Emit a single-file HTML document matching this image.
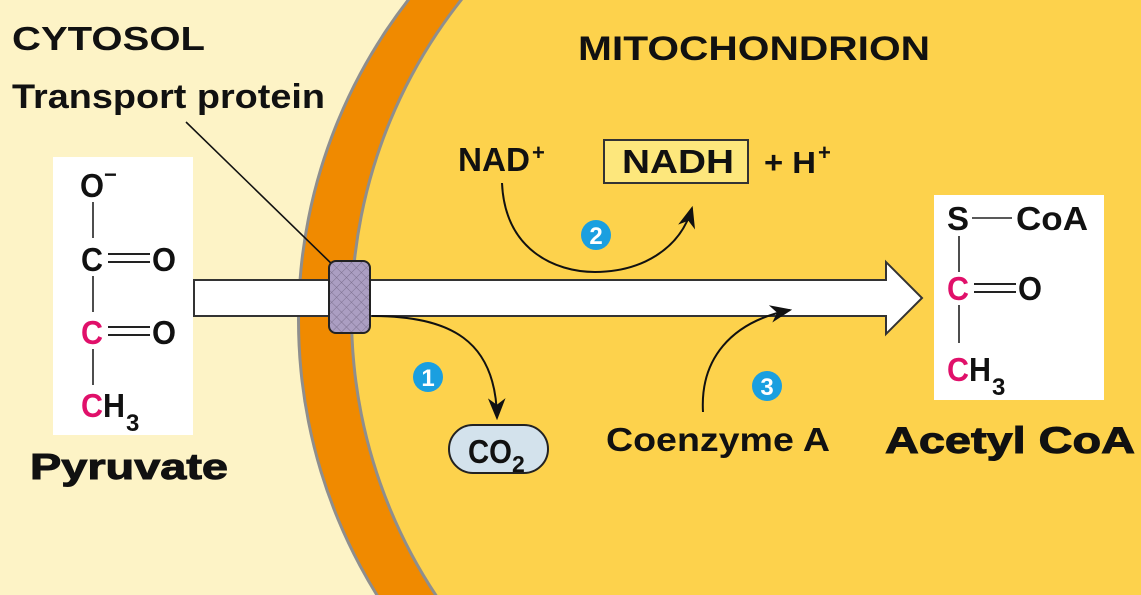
<!DOCTYPE html>
<html><head><meta charset="utf-8"><style>
html,body{margin:0;padding:0;background:#fdf3c6;overflow:hidden;width:1141px;height:595px}
svg{display:block}
text{font-family:"Liberation Sans",Arial,sans-serif;font-weight:bold;fill:#111}
</style></head><body>
<svg width="1141" height="595" viewBox="0 0 1141 595" xmlns="http://www.w3.org/2000/svg">
<defs>
<pattern id="hatch" width="7" height="7" patternUnits="userSpaceOnUse" patternTransform="rotate(45)">
<rect width="7" height="7" fill="#ab9ec2"/>
<line x1="0" y1="0" x2="0" y2="7" stroke="#7d7190" stroke-width="1"/>
<line x1="0" y1="0" x2="7" y2="0" stroke="#7d7190" stroke-width="1"/>
</pattern>
<marker id="ah" viewBox="0 0 10 10" refX="9" refY="5" markerWidth="22" markerHeight="22" markerUnits="userSpaceOnUse" orient="auto">
<path d="M0,1 L10,5 L0,9 L3,5 z" fill="#111"/>
</marker>
</defs>
<rect width="1141" height="595" fill="#fdf3c6"/>
<circle cx="820" cy="320" r="523" fill="#8e8e8e"/>
<circle cx="820" cy="320" r="520" fill="#f08a00"/>
<circle cx="859" cy="315" r="509" fill="#8e8e8e"/>
<circle cx="859" cy="315" r="506" fill="#fdd24c"/>

<text x="12" y="50" font-size="33" textLength="193" lengthAdjust="spacingAndGlyphs">CYTOSOL</text>
<text x="12" y="108" font-size="34" textLength="313" lengthAdjust="spacingAndGlyphs">Transport protein</text>
<line x1="186" y1="122" x2="338" y2="270" stroke="#111" stroke-width="1.6"/>
<text x="578" y="60" font-size="34" textLength="352" lengthAdjust="spacingAndGlyphs">MITOCHONDRION</text>

<rect x="53" y="157" width="140" height="278" fill="#fff"/>
<g font-size="33">
<text x="80" y="197" textLength="24" lengthAdjust="spacingAndGlyphs">O</text><text x="104" y="182" font-size="22">−</text>
<line x1="93" y1="202" x2="93" y2="238" stroke="#222" stroke-width="1.6"/>
<text x="81" y="271" textLength="22" lengthAdjust="spacingAndGlyphs">C</text>
<line x1="108" y1="254" x2="150" y2="254" stroke="#222" stroke-width="2"/>
<line x1="108" y1="262" x2="150" y2="262" stroke="#222" stroke-width="2"/>
<text x="152" y="271" textLength="24" lengthAdjust="spacingAndGlyphs">O</text>
<line x1="93" y1="276" x2="93" y2="312" stroke="#222" stroke-width="1.6"/>
<text x="81" y="344" style="fill:#e0106a" textLength="22" lengthAdjust="spacingAndGlyphs">C</text>
<line x1="108" y1="327" x2="150" y2="327" stroke="#222" stroke-width="2"/>
<line x1="108" y1="335" x2="150" y2="335" stroke="#222" stroke-width="2"/>
<text x="152" y="344" textLength="24" lengthAdjust="spacingAndGlyphs">O</text>
<line x1="93" y1="349" x2="93" y2="385" stroke="#222" stroke-width="1.6"/>
<text x="81" y="417" style="fill:#e0106a" textLength="22" lengthAdjust="spacingAndGlyphs">C</text><text x="103" y="417" textLength="22" lengthAdjust="spacingAndGlyphs">H</text><text x="126" y="431" font-size="24">3</text>
</g>
<text x="30" y="479" font-size="36" textLength="198" lengthAdjust="spacingAndGlyphs" stroke="#111" stroke-width="1">Pyruvate</text>

<path d="M194,280 L886,280 L886,262 L922,298 L886,334 L886,316 L194,316 Z" fill="#fff" stroke="#333" stroke-width="2"/>
<rect x="329" y="261" width="41" height="72" rx="7" fill="url(#hatch)" stroke="#222" stroke-width="2"/>

<path d="M372,316 C450,316 496,340 497,418" fill="none" stroke="#111" stroke-width="2" marker-end="url(#ah)"/>
<circle cx="428" cy="377" r="15" fill="#1a9fe0"/>
<text x="428" y="386" font-size="24" text-anchor="middle" style="fill:#fff">1</text>
<rect x="449" y="425" width="99" height="48" rx="24" fill="#d3e2ec" stroke="#222" stroke-width="2"/>
<text x="468" y="463" font-size="33" textLength="44" lengthAdjust="spacingAndGlyphs">CO</text><text x="512" y="472" font-size="23">2</text>

<text x="458" y="171" font-size="33" textLength="72" lengthAdjust="spacingAndGlyphs">NAD</text><text x="532" y="160" font-size="22">+</text>
<path d="M502,183 C505,250 555,272 595,272 C640,272 680,250 692,208" fill="none" stroke="#111" stroke-width="2" marker-end="url(#ah)"/>
<circle cx="596" cy="235" r="15" fill="#1a9fe0"/>
<text x="596" y="244" font-size="24" text-anchor="middle" style="fill:#fff">2</text>
<rect x="604" y="140" width="144" height="43" fill="#fde77c" stroke="#333" stroke-width="2"/>
<text x="622" y="173" font-size="33" textLength="112" lengthAdjust="spacingAndGlyphs">NADH</text>
<text x="764" y="173" font-size="31" textLength="52" lengthAdjust="spacingAndGlyphs">+ H</text><text x="818" y="160" font-size="22">+</text>

<path d="M703,412 C700,360 730,322 790,310" fill="none" stroke="#111" stroke-width="2" marker-end="url(#ah)"/>
<circle cx="767" cy="386" r="15" fill="#1a9fe0"/>
<text x="767" y="395" font-size="24" text-anchor="middle" style="fill:#fff">3</text>
<text x="606" y="451" font-size="33" textLength="224" lengthAdjust="spacingAndGlyphs">Coenzyme A</text>

<rect x="934" y="195" width="170" height="205" fill="#fff"/>
<g font-size="33">
<text x="947" y="230" textLength="22" lengthAdjust="spacingAndGlyphs">S</text>
<line x1="972" y1="218" x2="1012" y2="218" stroke="#222" stroke-width="1.6"/>
<text x="1016" y="230" textLength="72" lengthAdjust="spacingAndGlyphs">CoA</text>
<line x1="959" y1="236" x2="959" y2="272" stroke="#222" stroke-width="1.6"/>
<text x="947" y="300" style="fill:#e0106a" textLength="22" lengthAdjust="spacingAndGlyphs">C</text>
<line x1="974" y1="284" x2="1016" y2="284" stroke="#222" stroke-width="2"/>
<line x1="974" y1="292" x2="1016" y2="292" stroke="#222" stroke-width="2"/>
<text x="1018" y="300" textLength="24" lengthAdjust="spacingAndGlyphs">O</text>
<line x1="959" y1="305" x2="959" y2="343" stroke="#222" stroke-width="1.6"/>
<text x="947" y="381" style="fill:#e0106a" textLength="22" lengthAdjust="spacingAndGlyphs">C</text><text x="969" y="381" textLength="22" lengthAdjust="spacingAndGlyphs">H</text><text x="992" y="395" font-size="24">3</text>
</g>
<text x="885" y="453" font-size="37" textLength="250" lengthAdjust="spacingAndGlyphs" stroke="#111" stroke-width="1">Acetyl CoA</text>
</svg>
</body></html>
